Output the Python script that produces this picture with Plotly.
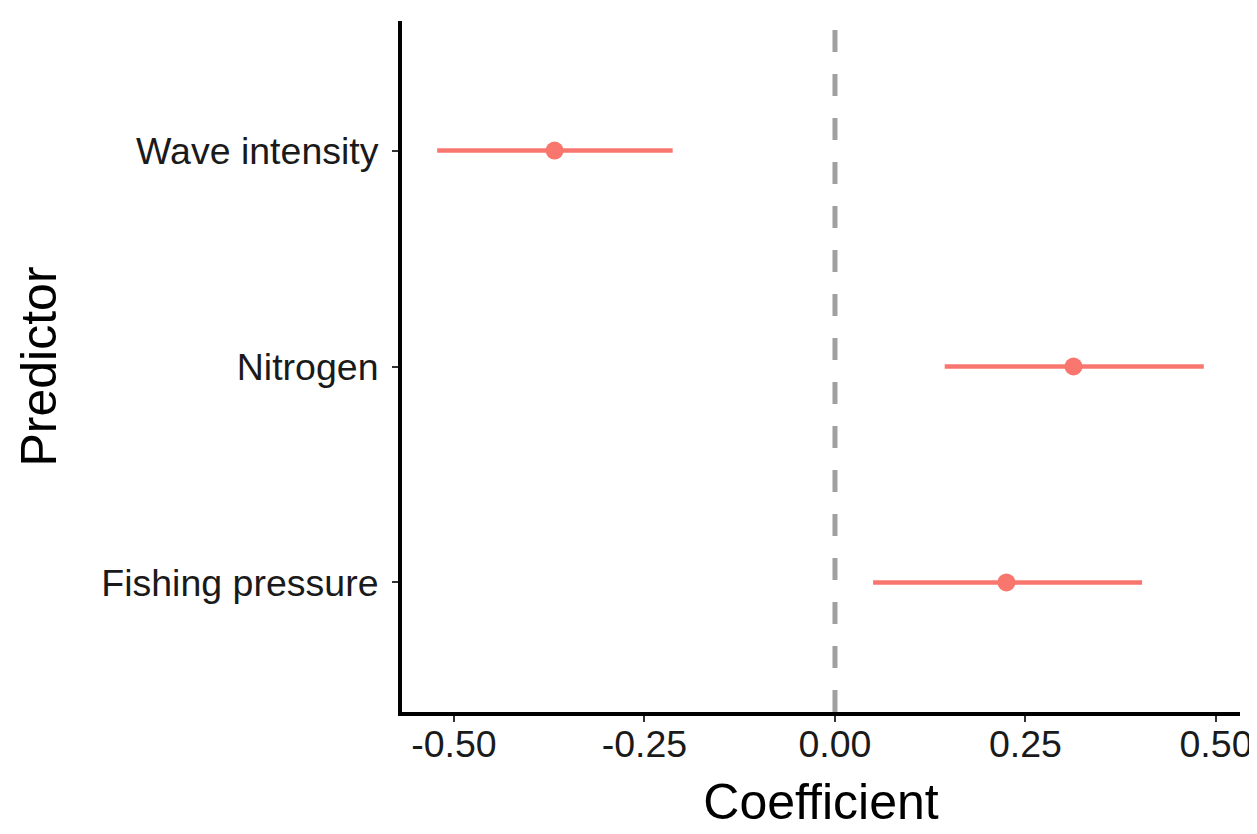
import plotly.graph_objects as go

predictors = ["Fishing pressure", "Nitrogen", "Wave intensity"]
estimates = [0.225, 0.313, -0.368]
lower = [0.050, 0.144, -0.522]
upper = [0.403, 0.484, -0.213]
x_ticks = [-0.50, -0.25, 0.00, 0.25, 0.50]
x_tick_labels = ["-0.50", "-0.25", "0.00", "0.25", "0.50"]

color = "#F8766D"
font_family = "Liberation Sans, Arial, Helvetica, sans-serif"

fig = go.Figure()
fig.add_trace(go.Scatter(
    x=estimates,
    y=predictors,
    mode="markers",
    marker=dict(color=color, size=18),
    error_x=dict(
        type="data",
        symmetric=False,
        array=[u - e for u, e in zip(upper, estimates)],
        arrayminus=[e - l for e, l in zip(estimates, lower)],
        color=color,
        thickness=4.5,
        width=0,
    ),
    showlegend=False,
))

fig.add_shape(type="line", xref="x", yref="paper", x0=0, x1=0, y0=0, y1=1,
              line=dict(color="#A0A0A0", width=5, dash="22px,22px"), layer="below")

fig.update_layout(
    width=1257, height=834,
    paper_bgcolor="white", plot_bgcolor="white",
    margin=dict(l=394, r=25, t=13, b=130),
    font=dict(family=font_family, color="black"),
    xaxis=dict(
        range=[-0.5682, 0.5315],
        tickvals=x_ticks, ticktext=x_tick_labels,
        showgrid=False, zeroline=False,
        showline=True, linecolor="black", linewidth=4,
        ticks="outside", ticklen=6, tickwidth=2, tickcolor="#333333",
        ticklabelstandoff=-10,
        tickfont=dict(size=37.5, color="#1a1a1a"),
        title=dict(text="Coefficient", font=dict(size=50, color="black"), standoff=21),
    ),
    yaxis=dict(
        type="category", categoryorder="array", categoryarray=predictors,
        range=[-0.6, 2.6],
        showgrid=False, zeroline=False,
        showline=True, linecolor="black", linewidth=4,
        ticks="outside", ticklen=6, tickwidth=2, tickcolor="#333333",
        ticklabelstandoff=6,
        tickfont=dict(size=37.5, color="#1a1a1a"),
        title=dict(text="Predictor", font=dict(size=50, color="black"), standoff=30),
    ),
)

fig.write_html("out.html")
